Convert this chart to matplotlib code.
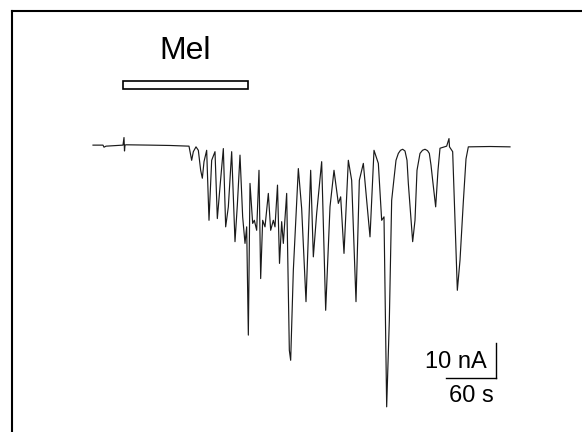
import matplotlib.pyplot as plt
from matplotlib.patches import Rectangle

# whole-cell current trace, melittin application
time_s = [0, 12, 13.2, 15.6, 36, 37.2, 37.8, 38.4, 39.6, 68.4, 92.4, 115.2,
          118.4, 120.4, 123.6, 126.4, 129.2, 131.2, 133.2, 136.4, 139.2, 142.4,
          146.4, 149.2, 152.4, 156.4, 159.2, 162.4, 166.4, 170.4, 173.2, 176.4,
          179.6, 182.4, 184.4, 186.4, 188.4, 191.6, 193.6, 196.4, 199.2, 201.2,
          203.6, 206.4, 210.4, 213.2, 216.4, 218.4, 221.4, 223.8, 226.4, 228.4,
          232.4, 235.6, 237.2, 240.4, 246.4, 250.4, 255.6, 261.2, 264.4, 268.4,
          274.4, 279.2, 284.4, 289.2, 294.4, 297.2, 301.2, 306.4, 310.4, 315.6,
          319.6, 324.4, 328.4, 332.4, 337.2, 342.4, 346.4, 349.2, 352.4, 355.6,
          358.4, 361.2, 363.6, 366.4, 369.0, 371.6, 374.4, 376.8, 378.4, 383.6,
          386.4, 388.8, 392.4, 395.4, 398.4, 401.4, 403.6, 405.6, 407.6, 411.2,
          414.0, 416.4, 424.4, 427.2, 427.8, 431.6, 434.4, 437.2,
          440.4, 444.4, 447.6, 450.4, 476.4, 500.4]
current_nA = [0, 0, -0.6, -0.3, 0, 2.2, -1.7, 0, 0.1, 0, -0.1, -0.3,
              -4.4, -1.9, -0.5, -1.5, -7.3, -9.6, -4.8, -1.5, -21.8, -4.4,
              -1.9, -21.3, -12.1, -1.0, -23.7, -17.9, -1.9, -28.0, -17.4, -2.9,
              -20.8, -28.5, -23.7, -55.1, -11.1, -22.7, -21.8, -24.7, -7.3, -38.7,
              -21.8, -23.7, -14.0, -24.7, -21.8, -23.7, -11.6, -34.3, -22.2, -28.5,
              -14.0, -59.5, -62.4, -36.3, -6.8, -18.4, -45.4, -7.3, -32.4, -19.8,
              -4.8, -47.9, -17.9, -7.3, -16.9, -15.0, -31.4, -4.4, -10.2, -45.4,
              -10.2, -5.3, -16.0, -26.6, -1.5, -5.3, -21.8, -20.8, -75.9, -50.8,
              -16.0, -9.7, -4.4, -2.4, -1.5, -1.2, -1.7, -4.4, -11.1, -28.0,
              -21.8, -7.3, -2.4, -1.5, -1.2, -1.6, -2.4, -5.8, -10.2, -17.9,
              -7.3, -0.9, -0.3, 1.9, -0.5, -1.9, -21.8, -42.1,
              -33.4, -16.4, -4.0, -0.5, -0.4, -0.5]

mel_on, mel_off = 35.6, 185.6      # s
bar_nA, bar_s = 10, 60             # scale bar sizes

plt.rcParams['font.family'] = ['Liberation Sans', 'DejaVu Sans']

fig = plt.figure(figsize=(5.82, 4.32), dpi=100)
ax = fig.add_axes([11.5 / 582, 0, 1 - 11.5 / 582, 421 / 432])

ax.plot(time_s, current_nA, color='#1a1a1a', linewidth=0.85)

# application bar
ax.add_patch(Rectangle((mel_on, 16.2), mel_off - mel_on, 2.4,
                       facecolor='white', edgecolor='black', linewidth=1.2))
ax.text((mel_on + mel_off) / 2, 25.1, 'Mel', ha='center', va='baseline',
        fontsize=23)

# scale bar
sx, sy = 483.2, -67.5
ax.plot([sx, sx], [sy, sy + bar_nA], color='black', linewidth=1.0)
ax.plot([sx - bar_s, sx], [sy, sy], color='black', linewidth=1.0)
ax.text(sx - 11, -64.7, f'{bar_nA} nA', ha='right', va='baseline', fontsize=17)
ax.text(sx - 2, -74.4, f'{bar_s} s', ha='right', va='baseline', fontsize=17)

ax.set_xlim(-97.8, 586.8)
ax.set_ylim(-83.2, 38.9)
ax.set_xticks([])
ax.set_yticks([])
for side in ['right', 'bottom']:
    ax.spines[side].set_visible(False)
for side in ['left', 'top']:
    ax.spines[side].set_linewidth(1.5)

plt.savefig('out.png', dpi=100)
